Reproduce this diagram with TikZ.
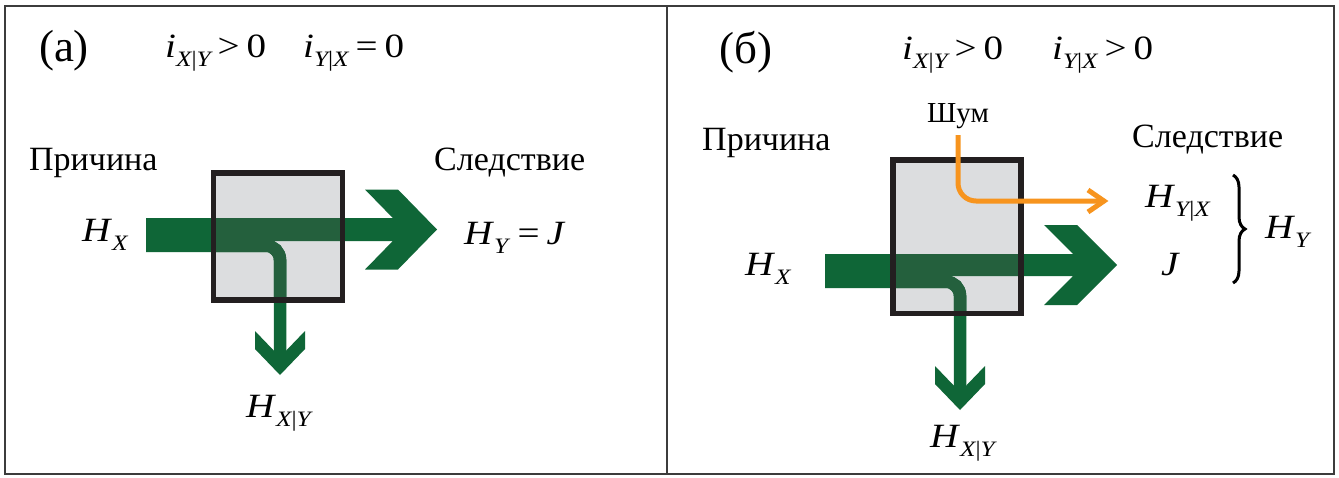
\documentclass[tikz,border=0pt]{standalone}
\usepackage{fontspec}
\setmainfont{Liberation Serif}
\newfontfamily\mathfnt{Liberation Serif}[FakeStretch=1.15]
\usetikzlibrary{decorations.pathreplacing}
\definecolor{grn}{HTML}{0F6637}
\definecolor{grnin}{HTML}{24603D}
\definecolor{boxgrey}{HTML}{DCDDDF}
\definecolor{boxline}{HTML}{231F20}
\definecolor{orng}{HTML}{F7941E}
\definecolor{frmc}{HTML}{3C3C3C}
\newcommand\msb[1]{\raisebox{-9pt}{\fontsize{22}{24}\selectfont\mathfnt #1}}
\newcommand\subXY{\itshape X\upshape|\itshape Y}
\newcommand\subYX{\itshape Y\upshape|\itshape X}
\tikzset{
  lbl/.style={inner sep=0pt, font=\fontsize{34}{40}\selectfont},
  mlbl/.style={inner sep=0pt, font=\fontsize{34}{40}\selectfont\mathfnt},
  panellbl/.style={inner sep=0pt, font=\fontsize{45}{50}\selectfont},
  noiselbl/.style={inner sep=0pt, font=\fontsize{29}{34}\selectfont},
  fat/.style={fill=grn, draw=none},
  branch/.style={draw=grn, line width=12.5pt, rounded corners=14pt},
  procbox/.style={fill=boxgrey},
  procborder/.style={draw=boxline, line width=5.5pt},
  orangeline/.style={draw=orng, line width=5pt, rounded corners=18pt},
  framestyle/.style={draw=frmc, line width=2.5pt},
}
\begin{document}
\begin{tikzpicture}[x=1pt,y=-1pt]
\useasboundingbox (0,0) rectangle (1339,477);
\fill[white] (0,0) rectangle (1339,477);

% ---------------- panel (a) ----------------
\fill[procbox] (213.5,173) rectangle (342.5,300);
\path[fat] (146,218) -- (392.8,218) -- (365,189.5) -- (398,189.5) -- (437,229.5)
  -- (398,269.5) -- (365,269.5) -- (392.8,241) -- (146,241) -- cycle;
\draw[branch] (146,245.75) -- (280,245.75) -- (280,352);
\path[fat] (273.75,350.5) -- (255,331) -- (255,349) -- (280,375) -- (305,349)
  -- (305,331) -- (286.25,350.5) -- cycle;
\begin{scope}
  \clip (213.5,173) rectangle (342.5,300);
  \fill[grnin] (146,218) rectangle (400,241);
  \draw[branch, draw=grnin] (146,245.75) -- (280,245.75) -- (280,352);
\end{scope}
\draw[procborder] (213.5,173) rectangle (342.5,300);

\node[panellbl, anchor=base] (pa) at (64,61) {(a)};
\node[mlbl, anchor=base west] (ia1) at (165,57) {\textit{i}\msb{\subXY}\hspace{7pt}>\hspace{7pt}0};
\node[mlbl, anchor=base west] (ia2) at (303,57) {\textit{i}\msb{\subYX}\hspace{7pt}=\hspace{7pt}0};
\node[lbl, anchor=base west] (ca) at (29,170) {Причина};
\node[lbl, anchor=base west] (ea) at (434,170) {Следствие};
\node[mlbl, anchor=base west] (hxa) at (82,241) {\textit{H}\msb{\textit{X}}};
\node[mlbl, anchor=base west] (hya) at (464,244) {\textit{H}\msb{\textit{Y}}\hspace{7pt}=\hspace{7pt}\textit{J}};
\node[mlbl, anchor=base west] (hxya) at (246,417) {\textit{H}\msb{\subXY}};

% ---------------- panel (b) ----------------
\fill[procbox] (893,160) rectangle (1021,313.5);
\path[fat] (825,254) -- (1073,254) -- (1044,225) -- (1077,225) -- (1117,265)
  -- (1077,305) -- (1044,305) -- (1073,276) -- (825,276) -- cycle;
\draw[branch] (825,281.75) -- (960,281.75) -- (960,387);
\path[fat] (953.75,385.5) -- (935,366) -- (935,384) -- (960,410) -- (985,384)
  -- (985,366) -- (966.25,385.5) -- cycle;
\begin{scope}
  \clip (893,160) rectangle (1021,313.5);
  \fill[grnin] (825,254) rectangle (1030,276);
  \draw[branch, draw=grnin] (825,281.75) -- (960,281.75) -- (960,387);
\end{scope}
\draw[procborder] (893,160) rectangle (1021,313.5);

\node[panellbl, anchor=base] (pb) at (746,63) {(б)};
\node[mlbl, anchor=base west] (ib1) at (902,59) {\textit{i}\msb{\subXY}\hspace{7pt}>\hspace{7pt}0};
\node[mlbl, anchor=base west] (ib2) at (1052,59) {\textit{i}\msb{\subYX}\hspace{7pt}>\hspace{7pt}0};
\node[noiselbl, anchor=base] (nz) at (958,122) {Шум};
\node[lbl, anchor=base west] (cb) at (702,150) {Причина};
\node[lbl, anchor=base west] (eb) at (1132,147) {Следствие};
\node[mlbl, anchor=base west] (hyxb) at (1145,207) {\textit{H}\msb{\subYX}};
\node[mlbl, anchor=base west] (jb) at (1161,275) {\textit{J}};
\node[mlbl, anchor=base west] (hyb) at (1265,238) {\textit{H}\msb{\textit{Y}}};
\node[mlbl, anchor=base west] (hxb) at (745,275) {\textit{H}\msb{\textit{X}}};
\node[mlbl, anchor=base west] (hxyb) at (930,447) {\textit{H}\msb{\subXY}};

% noise arrow
\coordinate (nzstart) at (958,135);
\coordinate (nzend) at (1104,201);
\draw[orangeline] (nzstart) |- (nzend);
\draw[draw=orng, line width=5pt, line join=miter] (1088,190) -- (nzend) -- (1088,212);

% brace
\draw[line width=3pt, decorate, decoration={brace, amplitude=12pt}] (1233,175) -- (1233,283);

% frame
\draw[framestyle] (5,6) rectangle (1334,474);
\draw[framestyle] (667,6) -- (667,474);
\end{tikzpicture}
\end{document}
